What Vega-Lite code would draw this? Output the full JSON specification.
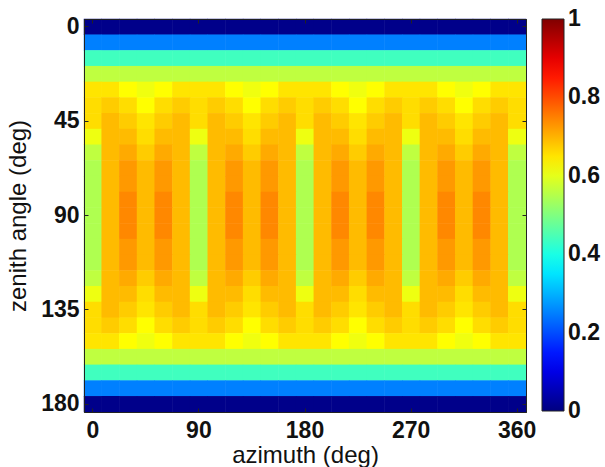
{
  "$schema": "https://vega.github.io/schema/vega-lite/v6.json",
  "autosize": {"type": "none"},
  "padding": {"left": 84, "top": 19, "right": 79, "bottom": 55},
  "width": 442,
  "height": 393,
  "background": "white",
  "config": {
    "view": {"stroke": "#222", "strokeWidth": 1},
    "font": "Liberation Sans",
    "axis": {"domainColor": "#222", "tickColor": "#222", "labelColor": "#111", "titleColor": "#111", "grid": false}
  },
  "data": {"values": [
{"az":0,"zen":0,"v":0.01},{"az":15,"zen":0,"v":0.01},{"az":30,"zen":0,"v":0.01},{"az":45,"zen":0,"v":0.01},{"az":60,"zen":0,"v":0.01},{"az":75,"zen":0,"v":0.01},{"az":90,"zen":0,"v":0.01},{"az":105,"zen":0,"v":0.01},{"az":120,"zen":0,"v":0.01},{"az":135,"zen":0,"v":0.01},{"az":150,"zen":0,"v":0.01},{"az":165,"zen":0,"v":0.01},{"az":180,"zen":0,"v":0.01},{"az":195,"zen":0,"v":0.01},{"az":210,"zen":0,"v":0.01},{"az":225,"zen":0,"v":0.01},{"az":240,"zen":0,"v":0.01},{"az":255,"zen":0,"v":0.01},{"az":270,"zen":0,"v":0.01},{"az":285,"zen":0,"v":0.01},{"az":300,"zen":0,"v":0.01},{"az":315,"zen":0,"v":0.01},{"az":330,"zen":0,"v":0.01},{"az":345,"zen":0,"v":0.01},{"az":360,"zen":0,"v":0.01},
{"az":0,"zen":7.5,"v":0.25},{"az":15,"zen":7.5,"v":0.25},{"az":30,"zen":7.5,"v":0.25},{"az":45,"zen":7.5,"v":0.25},{"az":60,"zen":7.5,"v":0.25},{"az":75,"zen":7.5,"v":0.25},{"az":90,"zen":7.5,"v":0.25},{"az":105,"zen":7.5,"v":0.25},{"az":120,"zen":7.5,"v":0.25},{"az":135,"zen":7.5,"v":0.25},{"az":150,"zen":7.5,"v":0.25},{"az":165,"zen":7.5,"v":0.25},{"az":180,"zen":7.5,"v":0.25},{"az":195,"zen":7.5,"v":0.25},{"az":210,"zen":7.5,"v":0.25},{"az":225,"zen":7.5,"v":0.25},{"az":240,"zen":7.5,"v":0.25},{"az":255,"zen":7.5,"v":0.25},{"az":270,"zen":7.5,"v":0.25},{"az":285,"zen":7.5,"v":0.25},{"az":300,"zen":7.5,"v":0.25},{"az":315,"zen":7.5,"v":0.25},{"az":330,"zen":7.5,"v":0.25},{"az":345,"zen":7.5,"v":0.25},{"az":360,"zen":7.5,"v":0.25},
{"az":0,"zen":15,"v":0.4375},{"az":15,"zen":15,"v":0.4375},{"az":30,"zen":15,"v":0.4375},{"az":45,"zen":15,"v":0.4375},{"az":60,"zen":15,"v":0.4375},{"az":75,"zen":15,"v":0.4375},{"az":90,"zen":15,"v":0.4375},{"az":105,"zen":15,"v":0.4375},{"az":120,"zen":15,"v":0.4375},{"az":135,"zen":15,"v":0.4375},{"az":150,"zen":15,"v":0.4375},{"az":165,"zen":15,"v":0.4375},{"az":180,"zen":15,"v":0.4375},{"az":195,"zen":15,"v":0.4375},{"az":210,"zen":15,"v":0.4375},{"az":225,"zen":15,"v":0.4375},{"az":240,"zen":15,"v":0.4375},{"az":255,"zen":15,"v":0.4375},{"az":270,"zen":15,"v":0.4375},{"az":285,"zen":15,"v":0.4375},{"az":300,"zen":15,"v":0.4375},{"az":315,"zen":15,"v":0.4375},{"az":330,"zen":15,"v":0.4375},{"az":345,"zen":15,"v":0.4375},{"az":360,"zen":15,"v":0.4375},
{"az":0,"zen":22.5,"v":0.5625},{"az":15,"zen":22.5,"v":0.5625},{"az":30,"zen":22.5,"v":0.5625},{"az":45,"zen":22.5,"v":0.5625},{"az":60,"zen":22.5,"v":0.5625},{"az":75,"zen":22.5,"v":0.5625},{"az":90,"zen":22.5,"v":0.5625},{"az":105,"zen":22.5,"v":0.5625},{"az":120,"zen":22.5,"v":0.5625},{"az":135,"zen":22.5,"v":0.5625},{"az":150,"zen":22.5,"v":0.5625},{"az":165,"zen":22.5,"v":0.5625},{"az":180,"zen":22.5,"v":0.5625},{"az":195,"zen":22.5,"v":0.5625},{"az":210,"zen":22.5,"v":0.5625},{"az":225,"zen":22.5,"v":0.5625},{"az":240,"zen":22.5,"v":0.5625},{"az":255,"zen":22.5,"v":0.5625},{"az":270,"zen":22.5,"v":0.5625},{"az":285,"zen":22.5,"v":0.5625},{"az":300,"zen":22.5,"v":0.5625},{"az":315,"zen":22.5,"v":0.5625},{"az":330,"zen":22.5,"v":0.5625},{"az":345,"zen":22.5,"v":0.5625},{"az":360,"zen":22.5,"v":0.5625},
{"az":0,"zen":30,"v":0.65},{"az":15,"zen":30,"v":0.65},{"az":30,"zen":30,"v":0.625},{"az":45,"zen":30,"v":0.61},{"az":60,"zen":30,"v":0.625},{"az":75,"zen":30,"v":0.65},{"az":90,"zen":30,"v":0.65},{"az":105,"zen":30,"v":0.65},{"az":120,"zen":30,"v":0.625},{"az":135,"zen":30,"v":0.61},{"az":150,"zen":30,"v":0.625},{"az":165,"zen":30,"v":0.65},{"az":180,"zen":30,"v":0.65},{"az":195,"zen":30,"v":0.65},{"az":210,"zen":30,"v":0.625},{"az":225,"zen":30,"v":0.61},{"az":240,"zen":30,"v":0.625},{"az":255,"zen":30,"v":0.65},{"az":270,"zen":30,"v":0.65},{"az":285,"zen":30,"v":0.65},{"az":300,"zen":30,"v":0.625},{"az":315,"zen":30,"v":0.61},{"az":330,"zen":30,"v":0.625},{"az":345,"zen":30,"v":0.65},{"az":360,"zen":30,"v":0.65},
{"az":0,"zen":37.5,"v":0.658},{"az":15,"zen":37.5,"v":0.675},{"az":30,"zen":37.5,"v":0.658},{"az":45,"zen":37.5,"v":0.625},{"az":60,"zen":37.5,"v":0.658},{"az":75,"zen":37.5,"v":0.675},{"az":90,"zen":37.5,"v":0.658},{"az":105,"zen":37.5,"v":0.675},{"az":120,"zen":37.5,"v":0.658},{"az":135,"zen":37.5,"v":0.625},{"az":150,"zen":37.5,"v":0.658},{"az":165,"zen":37.5,"v":0.675},{"az":180,"zen":37.5,"v":0.658},{"az":195,"zen":37.5,"v":0.675},{"az":210,"zen":37.5,"v":0.658},{"az":225,"zen":37.5,"v":0.625},{"az":240,"zen":37.5,"v":0.658},{"az":255,"zen":37.5,"v":0.675},{"az":270,"zen":37.5,"v":0.658},{"az":285,"zen":37.5,"v":0.675},{"az":300,"zen":37.5,"v":0.658},{"az":315,"zen":37.5,"v":0.625},{"az":330,"zen":37.5,"v":0.658},{"az":345,"zen":37.5,"v":0.675},{"az":360,"zen":37.5,"v":0.658},
{"az":0,"zen":45,"v":0.658},{"az":15,"zen":45,"v":0.692},{"az":30,"zen":45,"v":0.675},{"az":45,"zen":45,"v":0.65},{"az":60,"zen":45,"v":0.675},{"az":75,"zen":45,"v":0.692},{"az":90,"zen":45,"v":0.658},{"az":105,"zen":45,"v":0.692},{"az":120,"zen":45,"v":0.675},{"az":135,"zen":45,"v":0.65},{"az":150,"zen":45,"v":0.675},{"az":165,"zen":45,"v":0.692},{"az":180,"zen":45,"v":0.658},{"az":195,"zen":45,"v":0.692},{"az":210,"zen":45,"v":0.675},{"az":225,"zen":45,"v":0.65},{"az":240,"zen":45,"v":0.675},{"az":255,"zen":45,"v":0.692},{"az":270,"zen":45,"v":0.658},{"az":285,"zen":45,"v":0.692},{"az":300,"zen":45,"v":0.675},{"az":315,"zen":45,"v":0.65},{"az":330,"zen":45,"v":0.675},{"az":345,"zen":45,"v":0.692},{"az":360,"zen":45,"v":0.658},
{"az":0,"zen":52.5,"v":0.608},{"az":15,"zen":52.5,"v":0.692},{"az":30,"zen":52.5,"v":0.692},{"az":45,"zen":52.5,"v":0.658},{"az":60,"zen":52.5,"v":0.692},{"az":75,"zen":52.5,"v":0.692},{"az":90,"zen":52.5,"v":0.608},{"az":105,"zen":52.5,"v":0.692},{"az":120,"zen":52.5,"v":0.692},{"az":135,"zen":52.5,"v":0.658},{"az":150,"zen":52.5,"v":0.692},{"az":165,"zen":52.5,"v":0.692},{"az":180,"zen":52.5,"v":0.608},{"az":195,"zen":52.5,"v":0.692},{"az":210,"zen":52.5,"v":0.692},{"az":225,"zen":52.5,"v":0.658},{"az":240,"zen":52.5,"v":0.692},{"az":255,"zen":52.5,"v":0.692},{"az":270,"zen":52.5,"v":0.608},{"az":285,"zen":52.5,"v":0.692},{"az":300,"zen":52.5,"v":0.692},{"az":315,"zen":52.5,"v":0.658},{"az":330,"zen":52.5,"v":0.692},{"az":345,"zen":52.5,"v":0.692},{"az":360,"zen":52.5,"v":0.608},
{"az":0,"zen":60,"v":0.5625},{"az":15,"zen":60,"v":0.692},{"az":30,"zen":60,"v":0.708},{"az":45,"zen":60,"v":0.675},{"az":60,"zen":60,"v":0.708},{"az":75,"zen":60,"v":0.692},{"az":90,"zen":60,"v":0.5625},{"az":105,"zen":60,"v":0.692},{"az":120,"zen":60,"v":0.708},{"az":135,"zen":60,"v":0.675},{"az":150,"zen":60,"v":0.708},{"az":165,"zen":60,"v":0.692},{"az":180,"zen":60,"v":0.5625},{"az":195,"zen":60,"v":0.692},{"az":210,"zen":60,"v":0.708},{"az":225,"zen":60,"v":0.675},{"az":240,"zen":60,"v":0.708},{"az":255,"zen":60,"v":0.692},{"az":270,"zen":60,"v":0.5625},{"az":285,"zen":60,"v":0.692},{"az":300,"zen":60,"v":0.708},{"az":315,"zen":60,"v":0.675},{"az":330,"zen":60,"v":0.708},{"az":345,"zen":60,"v":0.692},{"az":360,"zen":60,"v":0.5625},
{"az":0,"zen":67.5,"v":0.547},{"az":15,"zen":67.5,"v":0.692},{"az":30,"zen":67.5,"v":0.725},{"az":45,"zen":67.5,"v":0.692},{"az":60,"zen":67.5,"v":0.725},{"az":75,"zen":67.5,"v":0.692},{"az":90,"zen":67.5,"v":0.547},{"az":105,"zen":67.5,"v":0.692},{"az":120,"zen":67.5,"v":0.725},{"az":135,"zen":67.5,"v":0.692},{"az":150,"zen":67.5,"v":0.725},{"az":165,"zen":67.5,"v":0.692},{"az":180,"zen":67.5,"v":0.547},{"az":195,"zen":67.5,"v":0.692},{"az":210,"zen":67.5,"v":0.725},{"az":225,"zen":67.5,"v":0.692},{"az":240,"zen":67.5,"v":0.725},{"az":255,"zen":67.5,"v":0.692},{"az":270,"zen":67.5,"v":0.547},{"az":285,"zen":67.5,"v":0.692},{"az":300,"zen":67.5,"v":0.725},{"az":315,"zen":67.5,"v":0.692},{"az":330,"zen":67.5,"v":0.725},{"az":345,"zen":67.5,"v":0.692},{"az":360,"zen":67.5,"v":0.547},
{"az":0,"zen":75,"v":0.547},{"az":15,"zen":75,"v":0.692},{"az":30,"zen":75,"v":0.725},{"az":45,"zen":75,"v":0.692},{"az":60,"zen":75,"v":0.725},{"az":75,"zen":75,"v":0.692},{"az":90,"zen":75,"v":0.547},{"az":105,"zen":75,"v":0.692},{"az":120,"zen":75,"v":0.725},{"az":135,"zen":75,"v":0.692},{"az":150,"zen":75,"v":0.725},{"az":165,"zen":75,"v":0.692},{"az":180,"zen":75,"v":0.547},{"az":195,"zen":75,"v":0.692},{"az":210,"zen":75,"v":0.725},{"az":225,"zen":75,"v":0.692},{"az":240,"zen":75,"v":0.725},{"az":255,"zen":75,"v":0.692},{"az":270,"zen":75,"v":0.547},{"az":285,"zen":75,"v":0.692},{"az":300,"zen":75,"v":0.725},{"az":315,"zen":75,"v":0.692},{"az":330,"zen":75,"v":0.725},{"az":345,"zen":75,"v":0.692},{"az":360,"zen":75,"v":0.547},
{"az":0,"zen":82.5,"v":0.547},{"az":15,"zen":82.5,"v":0.692},{"az":30,"zen":82.5,"v":0.742},{"az":45,"zen":82.5,"v":0.692},{"az":60,"zen":82.5,"v":0.742},{"az":75,"zen":82.5,"v":0.692},{"az":90,"zen":82.5,"v":0.547},{"az":105,"zen":82.5,"v":0.692},{"az":120,"zen":82.5,"v":0.742},{"az":135,"zen":82.5,"v":0.692},{"az":150,"zen":82.5,"v":0.742},{"az":165,"zen":82.5,"v":0.692},{"az":180,"zen":82.5,"v":0.547},{"az":195,"zen":82.5,"v":0.692},{"az":210,"zen":82.5,"v":0.742},{"az":225,"zen":82.5,"v":0.692},{"az":240,"zen":82.5,"v":0.742},{"az":255,"zen":82.5,"v":0.692},{"az":270,"zen":82.5,"v":0.547},{"az":285,"zen":82.5,"v":0.692},{"az":300,"zen":82.5,"v":0.742},{"az":315,"zen":82.5,"v":0.692},{"az":330,"zen":82.5,"v":0.742},{"az":345,"zen":82.5,"v":0.692},{"az":360,"zen":82.5,"v":0.547},
{"az":0,"zen":90,"v":0.547},{"az":15,"zen":90,"v":0.692},{"az":30,"zen":90,"v":0.742},{"az":45,"zen":90,"v":0.692},{"az":60,"zen":90,"v":0.742},{"az":75,"zen":90,"v":0.692},{"az":90,"zen":90,"v":0.547},{"az":105,"zen":90,"v":0.692},{"az":120,"zen":90,"v":0.742},{"az":135,"zen":90,"v":0.692},{"az":150,"zen":90,"v":0.742},{"az":165,"zen":90,"v":0.692},{"az":180,"zen":90,"v":0.547},{"az":195,"zen":90,"v":0.692},{"az":210,"zen":90,"v":0.742},{"az":225,"zen":90,"v":0.692},{"az":240,"zen":90,"v":0.742},{"az":255,"zen":90,"v":0.692},{"az":270,"zen":90,"v":0.547},{"az":285,"zen":90,"v":0.692},{"az":300,"zen":90,"v":0.742},{"az":315,"zen":90,"v":0.692},{"az":330,"zen":90,"v":0.742},{"az":345,"zen":90,"v":0.692},{"az":360,"zen":90,"v":0.547},
{"az":0,"zen":97.5,"v":0.547},{"az":15,"zen":97.5,"v":0.692},{"az":30,"zen":97.5,"v":0.742},{"az":45,"zen":97.5,"v":0.692},{"az":60,"zen":97.5,"v":0.742},{"az":75,"zen":97.5,"v":0.692},{"az":90,"zen":97.5,"v":0.547},{"az":105,"zen":97.5,"v":0.692},{"az":120,"zen":97.5,"v":0.742},{"az":135,"zen":97.5,"v":0.692},{"az":150,"zen":97.5,"v":0.742},{"az":165,"zen":97.5,"v":0.692},{"az":180,"zen":97.5,"v":0.547},{"az":195,"zen":97.5,"v":0.692},{"az":210,"zen":97.5,"v":0.742},{"az":225,"zen":97.5,"v":0.692},{"az":240,"zen":97.5,"v":0.742},{"az":255,"zen":97.5,"v":0.692},{"az":270,"zen":97.5,"v":0.547},{"az":285,"zen":97.5,"v":0.692},{"az":300,"zen":97.5,"v":0.742},{"az":315,"zen":97.5,"v":0.692},{"az":330,"zen":97.5,"v":0.742},{"az":345,"zen":97.5,"v":0.692},{"az":360,"zen":97.5,"v":0.547},
{"az":0,"zen":105,"v":0.547},{"az":15,"zen":105,"v":0.692},{"az":30,"zen":105,"v":0.725},{"az":45,"zen":105,"v":0.692},{"az":60,"zen":105,"v":0.725},{"az":75,"zen":105,"v":0.692},{"az":90,"zen":105,"v":0.547},{"az":105,"zen":105,"v":0.692},{"az":120,"zen":105,"v":0.725},{"az":135,"zen":105,"v":0.692},{"az":150,"zen":105,"v":0.725},{"az":165,"zen":105,"v":0.692},{"az":180,"zen":105,"v":0.547},{"az":195,"zen":105,"v":0.692},{"az":210,"zen":105,"v":0.725},{"az":225,"zen":105,"v":0.692},{"az":240,"zen":105,"v":0.725},{"az":255,"zen":105,"v":0.692},{"az":270,"zen":105,"v":0.547},{"az":285,"zen":105,"v":0.692},{"az":300,"zen":105,"v":0.725},{"az":315,"zen":105,"v":0.692},{"az":330,"zen":105,"v":0.725},{"az":345,"zen":105,"v":0.692},{"az":360,"zen":105,"v":0.547},
{"az":0,"zen":112.5,"v":0.547},{"az":15,"zen":112.5,"v":0.692},{"az":30,"zen":112.5,"v":0.725},{"az":45,"zen":112.5,"v":0.692},{"az":60,"zen":112.5,"v":0.725},{"az":75,"zen":112.5,"v":0.692},{"az":90,"zen":112.5,"v":0.547},{"az":105,"zen":112.5,"v":0.692},{"az":120,"zen":112.5,"v":0.725},{"az":135,"zen":112.5,"v":0.692},{"az":150,"zen":112.5,"v":0.725},{"az":165,"zen":112.5,"v":0.692},{"az":180,"zen":112.5,"v":0.547},{"az":195,"zen":112.5,"v":0.692},{"az":210,"zen":112.5,"v":0.725},{"az":225,"zen":112.5,"v":0.692},{"az":240,"zen":112.5,"v":0.725},{"az":255,"zen":112.5,"v":0.692},{"az":270,"zen":112.5,"v":0.547},{"az":285,"zen":112.5,"v":0.692},{"az":300,"zen":112.5,"v":0.725},{"az":315,"zen":112.5,"v":0.692},{"az":330,"zen":112.5,"v":0.725},{"az":345,"zen":112.5,"v":0.692},{"az":360,"zen":112.5,"v":0.547},
{"az":0,"zen":120,"v":0.5625},{"az":15,"zen":120,"v":0.692},{"az":30,"zen":120,"v":0.708},{"az":45,"zen":120,"v":0.675},{"az":60,"zen":120,"v":0.708},{"az":75,"zen":120,"v":0.692},{"az":90,"zen":120,"v":0.5625},{"az":105,"zen":120,"v":0.692},{"az":120,"zen":120,"v":0.708},{"az":135,"zen":120,"v":0.675},{"az":150,"zen":120,"v":0.708},{"az":165,"zen":120,"v":0.692},{"az":180,"zen":120,"v":0.5625},{"az":195,"zen":120,"v":0.692},{"az":210,"zen":120,"v":0.708},{"az":225,"zen":120,"v":0.675},{"az":240,"zen":120,"v":0.708},{"az":255,"zen":120,"v":0.692},{"az":270,"zen":120,"v":0.5625},{"az":285,"zen":120,"v":0.692},{"az":300,"zen":120,"v":0.708},{"az":315,"zen":120,"v":0.675},{"az":330,"zen":120,"v":0.708},{"az":345,"zen":120,"v":0.692},{"az":360,"zen":120,"v":0.5625},
{"az":0,"zen":127.5,"v":0.608},{"az":15,"zen":127.5,"v":0.692},{"az":30,"zen":127.5,"v":0.692},{"az":45,"zen":127.5,"v":0.658},{"az":60,"zen":127.5,"v":0.692},{"az":75,"zen":127.5,"v":0.692},{"az":90,"zen":127.5,"v":0.608},{"az":105,"zen":127.5,"v":0.692},{"az":120,"zen":127.5,"v":0.692},{"az":135,"zen":127.5,"v":0.658},{"az":150,"zen":127.5,"v":0.692},{"az":165,"zen":127.5,"v":0.692},{"az":180,"zen":127.5,"v":0.608},{"az":195,"zen":127.5,"v":0.692},{"az":210,"zen":127.5,"v":0.692},{"az":225,"zen":127.5,"v":0.658},{"az":240,"zen":127.5,"v":0.692},{"az":255,"zen":127.5,"v":0.692},{"az":270,"zen":127.5,"v":0.608},{"az":285,"zen":127.5,"v":0.692},{"az":300,"zen":127.5,"v":0.692},{"az":315,"zen":127.5,"v":0.658},{"az":330,"zen":127.5,"v":0.692},{"az":345,"zen":127.5,"v":0.692},{"az":360,"zen":127.5,"v":0.608},
{"az":0,"zen":135,"v":0.658},{"az":15,"zen":135,"v":0.692},{"az":30,"zen":135,"v":0.675},{"az":45,"zen":135,"v":0.65},{"az":60,"zen":135,"v":0.675},{"az":75,"zen":135,"v":0.692},{"az":90,"zen":135,"v":0.658},{"az":105,"zen":135,"v":0.692},{"az":120,"zen":135,"v":0.675},{"az":135,"zen":135,"v":0.65},{"az":150,"zen":135,"v":0.675},{"az":165,"zen":135,"v":0.692},{"az":180,"zen":135,"v":0.658},{"az":195,"zen":135,"v":0.692},{"az":210,"zen":135,"v":0.675},{"az":225,"zen":135,"v":0.65},{"az":240,"zen":135,"v":0.675},{"az":255,"zen":135,"v":0.692},{"az":270,"zen":135,"v":0.658},{"az":285,"zen":135,"v":0.692},{"az":300,"zen":135,"v":0.675},{"az":315,"zen":135,"v":0.65},{"az":330,"zen":135,"v":0.675},{"az":345,"zen":135,"v":0.692},{"az":360,"zen":135,"v":0.658},
{"az":0,"zen":142.5,"v":0.658},{"az":15,"zen":142.5,"v":0.675},{"az":30,"zen":142.5,"v":0.658},{"az":45,"zen":142.5,"v":0.625},{"az":60,"zen":142.5,"v":0.658},{"az":75,"zen":142.5,"v":0.675},{"az":90,"zen":142.5,"v":0.658},{"az":105,"zen":142.5,"v":0.675},{"az":120,"zen":142.5,"v":0.658},{"az":135,"zen":142.5,"v":0.625},{"az":150,"zen":142.5,"v":0.658},{"az":165,"zen":142.5,"v":0.675},{"az":180,"zen":142.5,"v":0.658},{"az":195,"zen":142.5,"v":0.675},{"az":210,"zen":142.5,"v":0.658},{"az":225,"zen":142.5,"v":0.625},{"az":240,"zen":142.5,"v":0.658},{"az":255,"zen":142.5,"v":0.675},{"az":270,"zen":142.5,"v":0.658},{"az":285,"zen":142.5,"v":0.675},{"az":300,"zen":142.5,"v":0.658},{"az":315,"zen":142.5,"v":0.625},{"az":330,"zen":142.5,"v":0.658},{"az":345,"zen":142.5,"v":0.675},{"az":360,"zen":142.5,"v":0.658},
{"az":0,"zen":150,"v":0.65},{"az":15,"zen":150,"v":0.65},{"az":30,"zen":150,"v":0.625},{"az":45,"zen":150,"v":0.61},{"az":60,"zen":150,"v":0.625},{"az":75,"zen":150,"v":0.65},{"az":90,"zen":150,"v":0.65},{"az":105,"zen":150,"v":0.65},{"az":120,"zen":150,"v":0.625},{"az":135,"zen":150,"v":0.61},{"az":150,"zen":150,"v":0.625},{"az":165,"zen":150,"v":0.65},{"az":180,"zen":150,"v":0.65},{"az":195,"zen":150,"v":0.65},{"az":210,"zen":150,"v":0.625},{"az":225,"zen":150,"v":0.61},{"az":240,"zen":150,"v":0.625},{"az":255,"zen":150,"v":0.65},{"az":270,"zen":150,"v":0.65},{"az":285,"zen":150,"v":0.65},{"az":300,"zen":150,"v":0.625},{"az":315,"zen":150,"v":0.61},{"az":330,"zen":150,"v":0.625},{"az":345,"zen":150,"v":0.65},{"az":360,"zen":150,"v":0.65},
{"az":0,"zen":157.5,"v":0.5625},{"az":15,"zen":157.5,"v":0.5625},{"az":30,"zen":157.5,"v":0.5625},{"az":45,"zen":157.5,"v":0.5625},{"az":60,"zen":157.5,"v":0.5625},{"az":75,"zen":157.5,"v":0.5625},{"az":90,"zen":157.5,"v":0.5625},{"az":105,"zen":157.5,"v":0.5625},{"az":120,"zen":157.5,"v":0.5625},{"az":135,"zen":157.5,"v":0.5625},{"az":150,"zen":157.5,"v":0.5625},{"az":165,"zen":157.5,"v":0.5625},{"az":180,"zen":157.5,"v":0.5625},{"az":195,"zen":157.5,"v":0.5625},{"az":210,"zen":157.5,"v":0.5625},{"az":225,"zen":157.5,"v":0.5625},{"az":240,"zen":157.5,"v":0.5625},{"az":255,"zen":157.5,"v":0.5625},{"az":270,"zen":157.5,"v":0.5625},{"az":285,"zen":157.5,"v":0.5625},{"az":300,"zen":157.5,"v":0.5625},{"az":315,"zen":157.5,"v":0.5625},{"az":330,"zen":157.5,"v":0.5625},{"az":345,"zen":157.5,"v":0.5625},{"az":360,"zen":157.5,"v":0.5625},
{"az":0,"zen":165,"v":0.4375},{"az":15,"zen":165,"v":0.4375},{"az":30,"zen":165,"v":0.4375},{"az":45,"zen":165,"v":0.4375},{"az":60,"zen":165,"v":0.4375},{"az":75,"zen":165,"v":0.4375},{"az":90,"zen":165,"v":0.4375},{"az":105,"zen":165,"v":0.4375},{"az":120,"zen":165,"v":0.4375},{"az":135,"zen":165,"v":0.4375},{"az":150,"zen":165,"v":0.4375},{"az":165,"zen":165,"v":0.4375},{"az":180,"zen":165,"v":0.4375},{"az":195,"zen":165,"v":0.4375},{"az":210,"zen":165,"v":0.4375},{"az":225,"zen":165,"v":0.4375},{"az":240,"zen":165,"v":0.4375},{"az":255,"zen":165,"v":0.4375},{"az":270,"zen":165,"v":0.4375},{"az":285,"zen":165,"v":0.4375},{"az":300,"zen":165,"v":0.4375},{"az":315,"zen":165,"v":0.4375},{"az":330,"zen":165,"v":0.4375},{"az":345,"zen":165,"v":0.4375},{"az":360,"zen":165,"v":0.4375},
{"az":0,"zen":172.5,"v":0.25},{"az":15,"zen":172.5,"v":0.25},{"az":30,"zen":172.5,"v":0.25},{"az":45,"zen":172.5,"v":0.25},{"az":60,"zen":172.5,"v":0.25},{"az":75,"zen":172.5,"v":0.25},{"az":90,"zen":172.5,"v":0.25},{"az":105,"zen":172.5,"v":0.25},{"az":120,"zen":172.5,"v":0.25},{"az":135,"zen":172.5,"v":0.25},{"az":150,"zen":172.5,"v":0.25},{"az":165,"zen":172.5,"v":0.25},{"az":180,"zen":172.5,"v":0.25},{"az":195,"zen":172.5,"v":0.25},{"az":210,"zen":172.5,"v":0.25},{"az":225,"zen":172.5,"v":0.25},{"az":240,"zen":172.5,"v":0.25},{"az":255,"zen":172.5,"v":0.25},{"az":270,"zen":172.5,"v":0.25},{"az":285,"zen":172.5,"v":0.25},{"az":300,"zen":172.5,"v":0.25},{"az":315,"zen":172.5,"v":0.25},{"az":330,"zen":172.5,"v":0.25},{"az":345,"zen":172.5,"v":0.25},{"az":360,"zen":172.5,"v":0.25},
{"az":0,"zen":180,"v":0.01},{"az":15,"zen":180,"v":0.01},{"az":30,"zen":180,"v":0.01},{"az":45,"zen":180,"v":0.01},{"az":60,"zen":180,"v":0.01},{"az":75,"zen":180,"v":0.01},{"az":90,"zen":180,"v":0.01},{"az":105,"zen":180,"v":0.01},{"az":120,"zen":180,"v":0.01},{"az":135,"zen":180,"v":0.01},{"az":150,"zen":180,"v":0.01},{"az":165,"zen":180,"v":0.01},{"az":180,"zen":180,"v":0.01},{"az":195,"zen":180,"v":0.01},{"az":210,"zen":180,"v":0.01},{"az":225,"zen":180,"v":0.01},{"az":240,"zen":180,"v":0.01},{"az":255,"zen":180,"v":0.01},{"az":270,"zen":180,"v":0.01},{"az":285,"zen":180,"v":0.01},{"az":300,"zen":180,"v":0.01},{"az":315,"zen":180,"v":0.01},{"az":330,"zen":180,"v":0.01},{"az":345,"zen":180,"v":0.01},{"az":360,"zen":180,"v":0.01}
  ]},
  "resolve": {"axis": {"x": "independent", "y": "independent"}},
  "layer": [
    {
      "mark": {"type": "rect", "width": {"band": 1.03}, "height": {"band": 1.03}},
      "encoding": {
        "x": {"field": "az", "type": "ordinal", "sort": "ascending",
          "scale": {"paddingInner": 0, "paddingOuter": 0},
          "axis": {"orient": "bottom", "values": [0, 90, 180, 270, 360], "title": "azimuth (deg)", "labelAngle": 0, "labelFontSize": 23, "labelFontWeight": "bold", "labelFont": "Liberation Sans", "tickSize": -4, "labelPadding": 11, "labelOverlap": false, "titleFontSize": 24, "titleFontWeight": "normal", "titleFont": "Liberation Sans", "titleY": 50, "titleBaseline": "alphabetic"}},
        "y": {"field": "zen", "type": "ordinal", "sort": "ascending",
          "scale": {"paddingInner": 0, "paddingOuter": 0},
          "axis": {"orient": "left", "values": [0, 45, 90, 135, 180], "title": "zenith angle (deg)", "labelFontSize": 23, "labelFontWeight": "bold", "labelFont": "Liberation Sans", "tickSize": -4, "labelPadding": 9, "labelOverlap": false, "titleFontSize": 24, "titleFontWeight": "normal", "titleFont": "Liberation Sans", "titleX": -59, "titleBaseline": "alphabetic"}},
        "color": {"field": "v", "type": "quantitative",
          "scale": {"domain": [0, 0.125, 0.375, 0.625, 0.875, 1], "range": ["#000080", "#0000ff", "#00ffff", "#ffff00", "#ff0000", "#800000"], "interpolate": "rgb"},
          "legend": {"type": "gradient", "orient": "none", "legendX": 458, "legendY": 0, "direction": "vertical", "title": null, "padding": 0, "gradientLength": 392, "gradientThickness": 22, "gradientStrokeColor": "#222", "gradientStrokeWidth": 1, "values": [0, 0.2, 0.4, 0.6, 0.8, 1], "format": "~g", "labelFontSize": 23, "labelFontWeight": "bold", "labelFont": "Liberation Sans", "labelColor": "#111", "labelOffset": 4, "labelOverlap": false,
            "encode": {"labels": {"update": {"baseline": {"value": "middle"}}}}}}
      }
    },
    {
      "mark": {"type": "rect", "opacity": 0},
      "encoding": {
        "x": {"field": "az", "type": "ordinal", "sort": "ascending",
          "axis": {"orient": "top", "values": [0, 90, 180, 270, 360], "title": null, "labels": false, "tickSize": -4}},
        "y": {"field": "zen", "type": "ordinal", "sort": "ascending",
          "axis": {"orient": "right", "values": [0, 45, 90, 135, 180], "title": null, "labels": false, "tickSize": -4}}
      }
    }
  ]
}
